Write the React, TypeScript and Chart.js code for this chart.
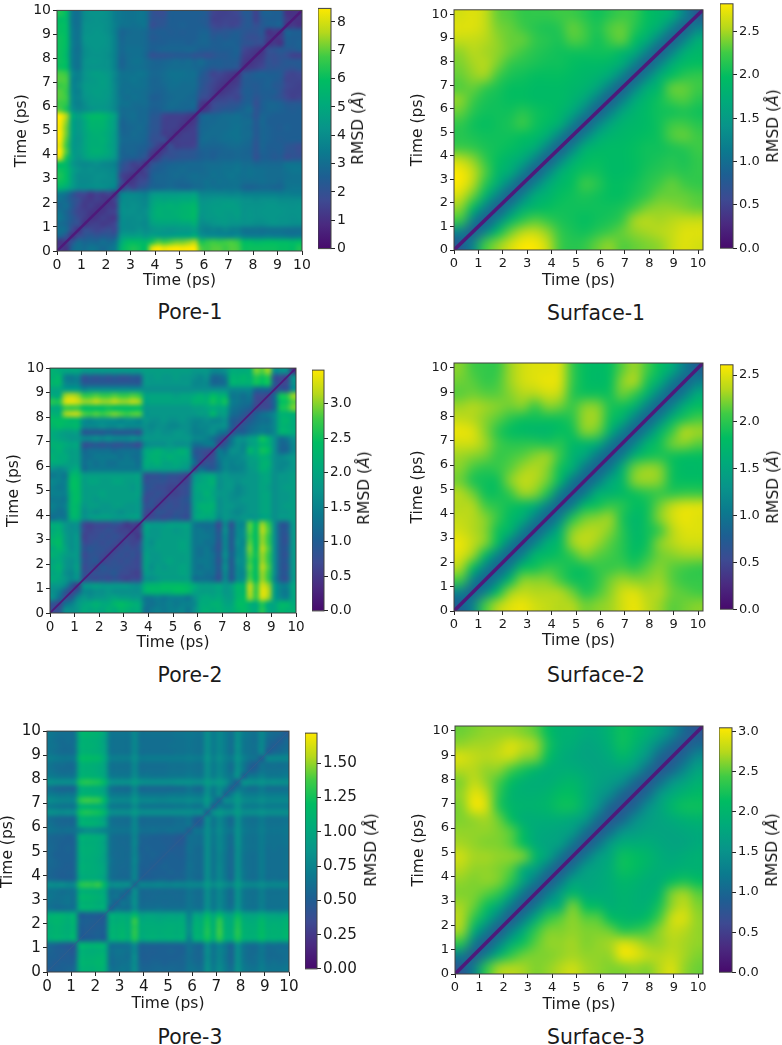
import { useEffect, useRef } from 'react';
import { Chart, registerables } from 'chart.js';

Chart.register(...registerables);
Chart.defaults.font.family = '"DejaVu Sans", sans-serif';
Chart.defaults.color = '#1a1a1a';

const timeTicks = [0, 1, 2, 3, 4, 5, 6, 7, 8, 9, 10];
// viridis as the printed colour bars show it, greener and bluer than the stock map
const viridis = ['#470a6c', '#4a2a80', '#3d4a92', '#1d5f92', '#0b7a8e', '#08948a', '#00aa7a', '#00bc62', '#3fcb45', '#b5d81c', '#fde800'];

const pore1Ticks = ['0', '1', '2', '3', '4', '5', '6', '7', '8'];
const surface1Ticks = ['0.0', '0.5', '1.0', '1.5', '2.0', '2.5'];
const pore2Ticks = ['0.0', '0.5', '1.0', '1.5', '2.0', '2.5', '3.0'];
const surface2Ticks = ['0.0', '0.5', '1.0', '1.5', '2.0', '2.5'];
const pore3Ticks = ['0.00', '0.25', '0.50', '0.75', '1.00', '1.25', '1.50'];
const surface3Ticks = ['0.0', '0.5', '1.0', '1.5', '2.0', '2.5', '3.0'];

// lower triangle of each symmetric map, row = y cell, column = x cell
// the numbers are my readings; "unit" in PANELS turns them into angstrom
const pore1Rows = [
  [12],
  [10, 12],
  [26, 20, 10],
  [30, 28, 16, 10],
  [28, 26, 20, 18, 10],
  [31, 27, 22, 17, 13, 10],
  [30, 26, 20, 15, 14, 11, 10],
  [27, 29, 22, 16, 12, 14, 11, 10],
  [30, 27, 21, 18, 13, 12, 14, 12, 10],
  [33, 30, 22, 16, 16, 12, 15, 13, 15, 10],
  [52, 48, 42, 37, 37, 37, 38, 38, 36, 34, 12],
  [58, 55, 44, 38, 37, 38, 39, 38, 38, 36, 18, 10],
  [60, 56, 44, 38, 38, 38, 39, 39, 38, 36, 15, 12, 10],
  [58, 55, 45, 40, 38, 39, 38, 38, 37, 35, 20, 16, 14, 10],
  [57, 54, 42, 38, 37, 38, 39, 37, 36, 34, 22, 18, 14, 15, 10],
  [76, 60, 45, 40, 44, 47, 47, 46, 44, 40, 26, 24, 24, 22, 19, 10],
  [82, 66, 44, 42, 46, 50, 51, 50, 47, 42, 26, 26, 26, 24, 22, 13, 10],
  [78, 64, 43, 41, 46, 50, 50, 50, 46, 42, 27, 26, 26, 25, 24, 20, 14, 10],
  [80, 66, 44, 40, 46, 50, 50, 51, 47, 42, 28, 27, 27, 27, 25, 19, 18, 18, 10],
  [82, 68, 45, 41, 46, 50, 51, 50, 47, 42, 27, 26, 28, 27, 26, 20, 19, 13, 13, 10],
  [80, 68, 46, 42, 47, 52, 52, 52, 48, 43, 26, 26, 27, 28, 26, 21, 20, 14, 14, 13, 10],
  [82, 70, 46, 42, 47, 53, 53, 53, 48, 43, 26, 27, 28, 27, 27, 21, 20, 14, 14, 14, 12, 10],
  [84, 72, 50, 44, 50, 54, 55, 54, 50, 44, 28, 28, 29, 27, 27, 22, 21, 15, 14, 14, 14, 12, 10],
  [66, 60, 40, 36, 38, 40, 42, 42, 40, 36, 28, 28, 28, 27, 27, 24, 24, 26, 27, 26, 26, 25, 24, 10],
  [64, 62, 38, 34, 38, 42, 42, 42, 40, 36, 30, 30, 28, 28, 28, 25, 25, 26, 28, 28, 27, 27, 27, 12, 10],
  [66, 64, 38, 35, 40, 42, 43, 43, 41, 36, 30, 28, 30, 29, 28, 24, 24, 26, 27, 28, 28, 27, 26, 18, 16, 12],
  [66, 63, 37, 34, 41, 43, 44, 43, 42, 36, 29, 30, 29, 29, 28, 26, 25, 26, 28, 28, 28, 28, 27, 20, 18, 14, 10],
  [64, 64, 36, 36, 42, 43, 43, 44, 42, 36, 30, 29, 30, 30, 29, 26, 26, 27, 29, 29, 28, 28, 28, 22, 18, 15, 12, 10],
  [66, 65, 36, 34, 40, 42, 43, 44, 42, 35, 30, 30, 31, 30, 29, 26, 26, 28, 29, 30, 29, 29, 28, 22, 20, 16, 14, 12, 10],
  [65, 63, 38, 34, 40, 43, 44, 43, 41, 36, 30, 30, 30, 31, 30, 27, 27, 28, 30, 30, 30, 29, 29, 24, 20, 15, 16, 14, 12, 10],
  [58, 56, 34, 30, 39, 40, 40, 40, 39, 34, 26, 28, 29, 29, 28, 26, 26, 27, 28, 28, 28, 28, 27, 26, 24, 22, 23, 22, 22, 20, 10],
  [58, 56, 33, 30, 39, 41, 41, 40, 39, 34, 25, 28, 30, 30, 28, 26, 25, 26, 27, 28, 27, 28, 26, 28, 25, 24, 24, 23, 23, 22, 12, 10],
  [58, 54, 33, 30, 38, 40, 40, 40, 38, 34, 26, 28, 29, 29, 26, 19, 20, 20, 21, 22, 22, 22, 20, 20, 18, 20, 22, 22, 24, 24, 14, 12, 10],
  [58, 55, 33, 29, 38, 40, 41, 40, 39, 34, 27, 29, 29, 29, 27, 24, 25, 26, 26, 26, 26, 27, 26, 24, 24, 23, 24, 24, 24, 25, 16, 14, 12, 10],
  [58, 56, 34, 30, 39, 41, 41, 41, 39, 34, 27, 28, 28, 28, 27, 24, 24, 24, 25, 25, 25, 24, 25, 26, 26, 24, 24, 25, 25, 24, 20, 20, 18, 18, 10],
  [58, 56, 33, 30, 40, 41, 41, 41, 39, 34, 26, 28, 28, 28, 27, 22, 23, 24, 24, 24, 24, 24, 24, 26, 26, 22, 24, 22, 24, 24, 20, 18, 18, 20, 12, 10],
  [57, 55, 33, 30, 39, 40, 41, 40, 38, 33, 26, 27, 28, 28, 27, 23, 24, 24, 23, 24, 23, 24, 24, 25, 25, 20, 20, 21, 22, 23, 21, 20, 20, 22, 10, 12, 10],
  [57, 55, 32, 29, 39, 40, 40, 40, 38, 34, 30, 30, 29, 30, 30, 18, 20, 21, 24, 24, 25, 24, 24, 24, 22, 16, 15, 16, 15, 16, 21, 22, 18, 22, 24, 24, 25, 10],
  [56, 54, 31, 29, 38, 39, 40, 39, 38, 33, 31, 30, 30, 31, 30, 20, 20, 20, 24, 24, 24, 24, 24, 23, 22, 14, 14, 15, 15, 15, 20, 22, 14, 22, 24, 24, 24, 12, 10],
  [60, 56, 32, 29, 38, 40, 40, 40, 38, 33, 31, 30, 30, 31, 30, 20, 18, 18, 24, 24, 24, 24, 24, 24, 22, 15, 14, 14, 15, 16, 22, 22, 14, 24, 25, 24, 24, 10, 10, 10],
];

const pore2Rows = [
  [7],
  [8, 6],
  [16, 12, 7],
  [16, 14, 9, 6],
  [17, 17, 15, 9, 5],
  [20, 19, 17, 15, 16, 7],
  [19, 20, 16, 15, 17, 8, 7],
  [20, 21, 17, 16, 18, 7, 8, 6],
  [19, 20, 17, 16, 17, 8, 8, 9, 6],
  [21, 20, 18, 17, 17, 7, 8, 8, 7, 6],
  [20, 22, 19, 16, 17, 8, 9, 8, 8, 7, 6],
  [22, 23, 18, 16, 17, 7, 7, 8, 7, 8, 7, 6],
  [21, 22, 18, 16, 17, 6, 7, 7, 8, 7, 8, 7, 6],
  [20, 21, 17, 16, 16, 7, 6, 7, 7, 8, 7, 6, 6, 5],
  [20, 20, 17, 16, 16, 7, 6, 7, 7, 7, 8, 7, 5, 6, 5],
  [12, 13, 13, 21, 21, 16, 17, 18, 18, 18, 17, 17, 17, 18, 17, 6],
  [13, 12, 13, 22, 22, 16, 17, 16, 17, 17, 17, 16, 17, 17, 17, 7, 6],
  [14, 13, 14, 22, 22, 17, 18, 18, 17, 17, 18, 18, 17, 17, 17, 8, 8, 6],
  [13, 13, 13, 22, 23, 18, 18, 17, 18, 18, 18, 18, 18, 18, 17, 7, 8, 7, 6],
  [14, 14, 14, 22, 23, 18, 18, 18, 19, 18, 18, 18, 18, 18, 18, 8, 7, 8, 7, 6],
  [14, 13, 14, 23, 23, 18, 18, 18, 18, 18, 18, 18, 18, 17, 18, 9, 8, 7, 7, 6, 6],
  [15, 14, 14, 23, 23, 18, 19, 19, 18, 18, 19, 19, 18, 18, 18, 8, 8, 8, 8, 7, 7, 6],
  [13, 14, 13, 22, 22, 18, 18, 18, 18, 18, 18, 18, 18, 18, 18, 8, 8, 8, 9, 8, 8, 7, 6],
  [16, 15, 16, 19, 20, 12, 13, 13, 13, 13, 13, 13, 13, 13, 13, 18, 18, 18, 18, 18, 18, 17, 16, 6],
  [20, 20, 19, 18, 18, 12, 13, 12, 13, 12, 12, 13, 13, 13, 12, 20, 20, 21, 19, 19, 20, 19, 18, 12, 6],
  [21, 20, 20, 18, 18, 12, 12, 13, 13, 13, 13, 12, 13, 12, 12, 19, 21, 21, 20, 21, 20, 20, 19, 10, 8, 6],
  [20, 21, 19, 18, 18, 11, 12, 12, 12, 12, 11, 12, 12, 12, 12, 19, 20, 21, 20, 19, 20, 21, 19, 9, 8, 7, 6],
  [21, 21, 20, 19, 19, 8, 8, 9, 8, 9, 8, 8, 9, 8, 7, 15, 16, 16, 16, 17, 16, 16, 16, 12, 12, 13, 13, 6],
  [20, 19, 18, 17, 17, 15, 15, 16, 15, 16, 15, 15, 15, 16, 15, 17, 17, 17, 17, 17, 17, 17, 17, 15, 15, 14, 12, 9, 6],
  [20, 19, 18, 18, 18, 9, 9, 9, 9, 10, 9, 9, 9, 9, 8, 16, 16, 17, 16, 16, 17, 17, 16, 14, 14, 15, 16, 13, 12, 7],
  [22, 23, 22, 22, 22, 15, 15, 15, 16, 15, 15, 16, 15, 15, 15, 16, 15, 16, 16, 15, 15, 16, 16, 14, 15, 15, 16, 16, 16, 10, 7],
  [23, 23, 23, 22, 22, 16, 15, 16, 16, 16, 16, 15, 16, 16, 15, 17, 16, 16, 17, 16, 16, 17, 16, 15, 15, 16, 15, 15, 16, 10, 9, 7],
  [21, 21, 29, 30, 30, 27, 26, 27, 26, 27, 28, 27, 26, 27, 27, 17, 17, 17, 17, 17, 17, 17, 17, 17, 18, 18, 22, 18, 18, 12, 11, 9, 7],
  [20, 20, 26, 26, 26, 23, 23, 23, 23, 24, 23, 23, 23, 23, 23, 17, 17, 17, 17, 17, 17, 17, 17, 18, 18, 19, 20, 19, 19, 13, 12, 11, 10, 6],
  [25, 25, 31, 32, 31, 29, 29, 30, 29, 29, 30, 29, 29, 30, 29, 19, 19, 19, 19, 19, 19, 19, 19, 21, 21, 21, 24, 22, 24, 14, 13, 12, 12, 7, 6],
  [20, 20, 29, 30, 29, 26, 26, 27, 26, 26, 27, 26, 26, 27, 26, 19, 19, 19, 19, 19, 18, 19, 19, 20, 21, 20, 23, 21, 21, 13, 13, 12, 13, 7, 7, 6],
  [19, 19, 18, 18, 18, 15, 16, 16, 16, 16, 16, 16, 16, 16, 16, 16, 16, 16, 16, 16, 16, 16, 16, 16, 16, 16, 16, 16, 16, 15, 15, 15, 15, 11, 11, 11, 6],
  [22, 22, 15, 14, 14, 9, 9, 9, 9, 9, 9, 9, 9, 9, 9, 17, 17, 17, 17, 17, 17, 17, 17, 15, 15, 15, 11, 11, 12, 21, 21, 21, 21, 24, 23, 24, 9, 6],
  [21, 22, 14, 13, 14, 8, 9, 8, 9, 8, 9, 8, 8, 9, 9, 17, 17, 18, 17, 17, 18, 17, 17, 16, 15, 16, 11, 11, 13, 21, 21, 22, 21, 25, 24, 25, 8, 7, 6],
  [21, 20, 19, 19, 19, 17, 17, 17, 17, 17, 17, 17, 17, 17, 17, 18, 18, 18, 18, 18, 18, 18, 18, 17, 17, 17, 15, 15, 16, 20, 20, 20, 21, 28, 27, 29, 16, 16, 16, 4],
];

const pore3Rows = [
  [45],
  [50, 45],
  [50, 50, 45],
  [52, 48, 48, 45],
  [55, 52, 48, 46, 45],
  [100, 104, 102, 100, 104, 48],
  [104, 106, 104, 102, 106, 50, 46],
  [102, 106, 104, 100, 104, 50, 48, 46],
  [106, 108, 106, 102, 106, 52, 50, 48, 46],
  [102, 104, 104, 100, 102, 50, 50, 50, 48, 48],
  [62, 58, 58, 60, 62, 100, 104, 102, 100, 98, 48],
  [60, 58, 60, 62, 60, 102, 104, 104, 100, 98, 62, 48],
  [64, 60, 60, 62, 60, 106, 108, 106, 104, 98, 60, 62, 50],
  [62, 62, 58, 60, 62, 100, 102, 102, 100, 96, 60, 60, 60, 50],
  [78, 76, 78, 74, 76, 122, 126, 124, 128, 110, 78, 80, 78, 78, 52],
  [54, 52, 50, 50, 52, 96, 100, 100, 98, 90, 60, 56, 56, 56, 72, 48],
  [53, 50, 48, 50, 52, 98, 100, 100, 98, 92, 60, 56, 54, 55, 72, 50, 46],
  [54, 52, 50, 48, 52, 100, 102, 100, 98, 92, 60, 56, 55, 56, 72, 50, 50, 46],
  [55, 52, 50, 50, 52, 98, 100, 100, 96, 90, 62, 56, 56, 55, 74, 52, 50, 50, 46],
  [54, 50, 50, 50, 52, 98, 102, 100, 98, 90, 60, 55, 56, 56, 72, 52, 50, 52, 50, 46],
  [55, 52, 50, 52, 52, 100, 102, 102, 98, 92, 60, 56, 56, 55, 72, 50, 52, 50, 50, 50, 45],
  [54, 52, 50, 50, 52, 98, 100, 100, 98, 90, 60, 56, 55, 56, 74, 52, 50, 50, 50, 48, 48, 44],
  [54, 52, 52, 50, 54, 100, 102, 100, 98, 92, 60, 56, 56, 56, 72, 52, 52, 50, 50, 48, 48, 46, 44],
  [62, 60, 58, 60, 60, 70, 76, 76, 74, 70, 64, 62, 62, 62, 74, 60, 58, 60, 58, 58, 60, 58, 58, 46],
  [60, 56, 54, 54, 56, 100, 104, 104, 100, 92, 62, 58, 58, 58, 74, 56, 56, 56, 56, 56, 56, 58, 58, 62, 46],
  [58, 56, 54, 54, 56, 102, 104, 102, 100, 90, 62, 58, 58, 58, 74, 56, 56, 56, 56, 56, 56, 58, 58, 62, 50, 46],
  [80, 78, 76, 78, 78, 118, 122, 120, 118, 108, 80, 78, 78, 78, 86, 78, 78, 78, 78, 78, 78, 78, 78, 78, 76, 76, 50],
  [66, 64, 62, 62, 64, 102, 106, 104, 102, 94, 66, 64, 64, 64, 76, 64, 62, 62, 62, 62, 62, 64, 64, 66, 62, 64, 78, 48],
  [76, 74, 72, 72, 74, 124, 130, 128, 126, 110, 76, 74, 74, 74, 84, 74, 74, 74, 72, 72, 74, 74, 74, 76, 74, 74, 86, 66, 50],
  [66, 64, 62, 64, 64, 102, 106, 104, 102, 94, 66, 64, 64, 64, 76, 64, 62, 62, 62, 62, 64, 64, 64, 66, 64, 64, 80, 64, 76, 50],
  [58, 54, 52, 52, 54, 98, 102, 100, 98, 90, 62, 56, 56, 56, 72, 54, 54, 54, 54, 54, 54, 56, 56, 62, 56, 56, 78, 66, 76, 66, 46],
  [80, 78, 78, 78, 80, 120, 124, 122, 120, 110, 82, 80, 80, 80, 88, 80, 78, 78, 78, 78, 78, 80, 80, 80, 78, 78, 88, 82, 86, 80, 62, 46],
  [66, 64, 62, 62, 64, 102, 106, 104, 102, 94, 66, 64, 64, 64, 76, 64, 64, 62, 62, 62, 64, 64, 64, 66, 64, 64, 78, 68, 76, 68, 64, 80, 48],
  [62, 58, 56, 56, 58, 100, 102, 102, 98, 92, 62, 60, 60, 60, 74, 58, 58, 58, 58, 58, 60, 60, 60, 62, 60, 60, 78, 66, 74, 66, 58, 80, 64, 48],
  [62, 58, 58, 56, 58, 100, 104, 102, 100, 92, 62, 60, 60, 60, 74, 58, 58, 58, 58, 58, 60, 60, 60, 62, 60, 60, 78, 66, 74, 66, 58, 78, 64, 52, 46],
  [68, 66, 64, 64, 66, 110, 114, 112, 110, 98, 70, 68, 68, 68, 78, 66, 66, 66, 66, 66, 66, 66, 66, 68, 66, 66, 82, 70, 78, 70, 66, 82, 70, 62, 60, 46],
  [62, 58, 56, 56, 58, 100, 104, 102, 100, 92, 62, 60, 60, 60, 74, 58, 58, 58, 58, 58, 58, 60, 60, 62, 60, 60, 78, 66, 74, 66, 58, 78, 64, 60, 58, 74, 46],
  [62, 60, 56, 56, 60, 102, 104, 104, 100, 92, 62, 60, 60, 60, 74, 60, 58, 58, 58, 58, 60, 60, 60, 62, 60, 60, 78, 66, 74, 66, 58, 80, 64, 60, 60, 74, 54, 46],
  [62, 58, 56, 58, 58, 100, 104, 102, 100, 90, 62, 60, 60, 60, 74, 58, 58, 58, 58, 58, 58, 60, 60, 62, 60, 60, 78, 66, 74, 66, 58, 78, 64, 60, 58, 74, 56, 52, 46],
  [64, 60, 58, 58, 60, 104, 108, 106, 104, 94, 64, 62, 62, 62, 74, 60, 60, 60, 60, 60, 60, 62, 62, 64, 62, 62, 78, 66, 74, 66, 60, 78, 66, 62, 60, 74, 60, 56, 54, 46],
];

const surface1Rows = [
  [75],
  [120, 75],
  [220, 120, 75],
  [240, 190, 120, 75],
  [260, 230, 180, 120, 75],
  [275, 250, 210, 170, 120, 75],
  [275, 255, 225, 185, 170, 120, 75],
  [255, 240, 215, 195, 180, 165, 120, 75],
  [220, 215, 205, 200, 195, 185, 170, 120, 75],
  [210, 205, 200, 200, 200, 195, 190, 170, 120, 75],
  [215, 200, 195, 200, 205, 220, 200, 190, 175, 120, 75],
  [230, 210, 200, 200, 200, 210, 200, 195, 185, 165, 120, 75],
  [240, 220, 205, 200, 195, 195, 190, 190, 190, 180, 160, 115, 75],
  [225, 230, 215, 205, 195, 195, 190, 190, 190, 185, 180, 160, 115, 75],
  [230, 240, 245, 220, 205, 200, 195, 195, 195, 190, 185, 180, 165, 120, 75],
  [235, 245, 250, 235, 215, 210, 205, 200, 200, 195, 190, 190, 185, 170, 120, 75],
  [240, 250, 245, 240, 230, 220, 210, 205, 200, 200, 200, 200, 200, 185, 170, 120, 75],
  [255, 255, 250, 240, 230, 230, 215, 210, 205, 225, 220, 200, 220, 230, 195, 170, 120, 75],
  [265, 265, 255, 235, 230, 220, 210, 205, 210, 230, 220, 205, 225, 230, 210, 190, 170, 120, 75],
  [260, 265, 255, 230, 225, 215, 215, 215, 220, 220, 210, 200, 210, 220, 215, 195, 185, 170, 120, 75],
];

const surface2Rows = [
  [75],
  [110, 75],
  [205, 110, 75],
  [230, 180, 110, 75],
  [245, 225, 175, 110, 75],
  [250, 235, 220, 180, 110, 75],
  [240, 230, 220, 185, 170, 110, 75],
  [235, 230, 220, 200, 175, 160, 110, 75],
  [230, 230, 205, 195, 185, 175, 160, 110, 75],
  [230, 215, 185, 185, 200, 225, 220, 190, 105, 75],
  [215, 190, 185, 185, 220, 235, 230, 215, 175, 100, 75],
  [220, 205, 195, 200, 210, 225, 230, 220, 185, 160, 100, 75],
  [225, 220, 215, 200, 205, 210, 220, 225, 200, 165, 150, 100, 75],
  [240, 240, 225, 205, 195, 195, 195, 190, 195, 175, 170, 160, 105, 75],
  [250, 245, 220, 195, 180, 175, 170, 170, 180, 185, 220, 215, 165, 110, 75],
  [235, 230, 220, 210, 195, 185, 185, 185, 185, 195, 225, 225, 185, 165, 110, 75],
  [225, 230, 225, 220, 215, 220, 200, 220, 215, 200, 220, 220, 190, 185, 165, 110, 75],
  [210, 215, 210, 210, 220, 230, 230, 240, 235, 195, 185, 185, 185, 215, 200, 165, 110, 75],
  [215, 210, 200, 205, 225, 240, 245, 250, 245, 200, 180, 175, 180, 220, 230, 190, 160, 105, 75],
  [220, 205, 200, 200, 225, 240, 245, 245, 245, 200, 180, 175, 180, 210, 225, 205, 180, 155, 105, 75],
];

const surface3Rows = [
  [75],
  [125, 75],
  [230, 125, 75],
  [265, 190, 125, 75],
  [270, 230, 185, 125, 75],
  [265, 250, 215, 180, 120, 75],
  [255, 255, 245, 230, 180, 115, 75],
  [260, 255, 260, 255, 230, 170, 120, 75],
  [270, 260, 260, 255, 245, 185, 165, 115, 75],
  [280, 265, 265, 260, 260, 255, 200, 170, 115, 75],
  [265, 260, 255, 255, 245, 210, 180, 170, 165, 115, 75],
  [260, 260, 260, 255, 245, 205, 180, 175, 170, 160, 110, 75],
  [255, 260, 265, 250, 210, 185, 185, 185, 185, 175, 160, 105, 75],
  [255, 295, 285, 225, 200, 195, 195, 200, 215, 215, 185, 150, 95, 75],
  [260, 290, 275, 230, 195, 190, 190, 195, 210, 210, 185, 160, 140, 95, 75],
  [255, 275, 260, 240, 210, 190, 185, 185, 195, 200, 185, 170, 160, 145, 100, 75],
  [270, 270, 260, 260, 240, 220, 200, 185, 185, 185, 175, 170, 170, 170, 155, 105, 75],
  [285, 275, 270, 275, 280, 260, 255, 210, 185, 175, 170, 170, 180, 200, 180, 150, 95, 75],
  [260, 265, 265, 270, 285, 275, 265, 220, 190, 185, 170, 175, 190, 215, 195, 170, 135, 100, 75],
  [250, 255, 260, 260, 260, 255, 245, 210, 190, 190, 180, 180, 195, 215, 205, 190, 170, 140, 100, 75],
];

const colorAt = (f: number) => {
  const p = Math.max(0, Math.min(1, f)) * (viridis.length - 1);
  const i = Math.min(Math.floor(p), viridis.length - 2);
  const a = parseInt(viridis[i].slice(1), 16);
  const b = parseInt(viridis[i + 1].slice(1), 16);
  const t = p - i;
  const mix = (s: number) => Math.round(((a >> s) & 255) * (1 - t) + ((b >> s) & 255) * t);
  return `rgb(${mix(16)},${mix(8)},${mix(0)})`;
};

// paints the scatter cells as one image, like imshow
const heatPlugin = (rows: number[][], blur: number, vmax: number) => ({
  id: 'heat',
  beforeDatasetsDraw(chart: any) {
    const { ctx, chartArea, scales } = chart;
    const n = rows.length;
    const off = document.createElement('canvas');
    off.width = n; off.height = n;
    const oc = off.getContext('2d')!;
    const tmax = scales.x.max;
    const step = chart.data.datasets[0].step;
    chart.data.datasets[0].data.forEach((c: any) => {
      oc.fillStyle = colorAt(c.v / vmax);
      oc.fillRect(Math.floor(c.x / step), n - 1 - Math.floor(c.y / step), 1, 1);
    });
    const x0 = scales.x.getPixelForValue(0), x1 = scales.x.getPixelForValue(tmax);
    const y0 = scales.y.getPixelForValue(tmax), y1 = scales.y.getPixelForValue(0);
    ctx.save();
    ctx.beginPath();
    ctx.rect(chartArea.left, chartArea.top, chartArea.width, chartArea.height);
    ctx.clip();
    ctx.imageSmoothingEnabled = true;
    ctx.imageSmoothingQuality = 'high';
    ctx.drawImage(off, x0, y0, x1 - x0, y1 - y0);
    if (blur) {
      ctx.filter = `blur(${blur}px)`;
      ctx.drawImage(off, x0, y0, x1 - x0, y1 - y0);
    }
    ctx.restore();
  },
});

const framePlugin = {
  id: 'frame',
  afterDraw(chart: any) {
    const { ctx, chartArea: a } = chart;
    ctx.save();
    ctx.strokeStyle = '#404040';
    ctx.lineWidth = 1;
    ctx.strokeRect(a.left, a.top, a.width, a.height);
    ctx.restore();
  },
};

const PANELS = [
  { name: 'Pore-1', rows: pore1Rows, unit: 0.105, tmax: 10, vmax: 8.48, ticks: pore1Ticks, blur: 0, diag: ['#4e1a7a', 2.5], plot: [57, 6, 302, 251], bar: [318, 331], font: 14, yw: 44, xh: 39, cap: [190, 312], rmsd: [358, 128] },
  { name: 'Surface-1', rows: surface1Rows, unit: 0.0102, tmax: 10.2, vmax: 2.82, ticks: surface1Ticks, blur: 3, diag: ['#4e1a7a', 3.5], plot: [454, 2, 703, 250], bar: [720, 733], font: 13, yw: 45, xh: 40, cap: [596, 313], rmsd: [773, 126] },
  { name: 'Pore-2', rows: pore2Rows, unit: 0.105, tmax: 10, vmax: 3.49, ticks: pore2Ticks, blur: 0, diag: ['#4e1a7a', 1.8], plot: [50, 368, 296, 613], bar: [312, 324], font: 13.5, yw: 45, xh: 39, cap: [190, 675], rmsd: [364, 488] },
  { name: 'Surface-2', rows: surface2Rows, unit: 0.0102, tmax: 10.2, vmax: 2.61, ticks: surface2Ticks, blur: 3, diag: ['#4e1a7a', 3.5], plot: [454, 363, 703, 611], bar: [720, 733], font: 13, yw: 45, xh: 39, cap: [596, 675], rmsd: [773, 487] },
  { name: 'Pore-3', rows: pore3Rows, unit: 0.0105, tmax: 10, vmax: 1.72, ticks: pore3Ticks, blur: 0, diag: ['#2f5f8c', 1], plot: [47, 730, 289, 972], bar: [305, 317], font: 15.2, yw: 48, xh: 41, cap: [190, 1037], rmsd: [371, 850] },
  { name: 'Surface-3', rows: surface3Rows, unit: 0.0102, tmax: 10.2, vmax: 3.05, ticks: surface3Ticks, blur: 3, diag: ['#4e1a7a', 3.5], plot: [455, 726, 703, 974], bar: [719, 732], font: 13, yw: 45, xh: 40, cap: [596, 1037], rmsd: [772, 850] },
];

const axisFont = { size: 15.5 };

function RmsdPanel({ p }: { p: any }) {
  const mapRef = useRef<HTMLCanvasElement>(null);
  const barRef = useRef<HTMLCanvasElement>(null);
  const [l, t, r, b] = p.plot;
  const padT = Math.min(t, 10);

  useEffect(() => {
    const step = p.tmax / p.rows.length;
    const cells: any[] = [];
    p.rows.forEach((row: number[], i: number) => row.forEach((v, j) => {
      cells.push({ x: (j + 0.5) * step, y: (i + 0.5) * step, v: v * p.unit });
      if (i !== j) cells.push({ x: (i + 0.5) * step, y: (j + 0.5) * step, v: v * p.unit });
    }));

    const axis = (size: string, px: number) => ({
      type: 'linear', min: 0, max: p.tmax,
      afterBuildTicks: (s: any) => { s.ticks = timeTicks.map((value) => ({ value })); },
      afterFit: (s: any) => { s[size] = px; },
      grid: { drawOnChartArea: false, tickLength: 4, tickColor: '#222', tickWidth: 1 },
      border: { display: false },
      ticks: { font: { size: p.font }, padding: 2, autoSkip: false, maxRotation: 0, color: '#1a1a1a' },
      title: { display: true, text: 'Time (ps)', font: axisFont, padding: 0, color: '#1a1a1a' },
    });

    const map = new Chart(mapRef.current!, {
      type: 'scatter',
      data: {
        datasets: [
          { data: cells, step, pointRadius: 0, showLine: false } as any,
          {
            data: [{ x: 0, y: 0 }, { x: p.tmax, y: p.tmax }],
            showLine: true, pointRadius: 0, borderColor: p.diag[0], borderWidth: p.diag[1],
          },
        ],
      },
      options: {
        animation: false, responsive: false, events: [],
        layout: { padding: { top: padT, right: 16, left: 0, bottom: 0 } },
        plugins: { legend: { display: false }, tooltip: { enabled: false } },
        scales: { x: axis('height', p.xh) as any, y: axis('width', p.yw) as any },
      },
      plugins: [heatPlugin(p.rows, p.blur, p.vmax), framePlugin],
    });

    const bar = new Chart(barRef.current!, {
      type: 'bar',
      data: {
        labels: ['RMSD'],
        datasets: [{
          data: [[0, p.vmax]] as any,
          barPercentage: 1, categoryPercentage: 1, borderWidth: 0,
          backgroundColor: (c: any) => {
            const a = c.chart.chartArea;
            if (!a) return viridis[5];
            const g = c.chart.ctx.createLinearGradient(0, a.bottom, 0, a.top);
            viridis.forEach((col, i) => g.addColorStop(i / (viridis.length - 1), col));
            return g;
          },
        }],
      },
      options: {
        animation: false, responsive: false, events: [],
        layout: { padding: { top: 8, bottom: 8 } },
        plugins: { legend: { display: false }, tooltip: { enabled: false } },
        scales: {
          x: { display: false },
          y: {
            position: 'right', min: 0, max: p.vmax,
            afterBuildTicks: (s: any) => { s.ticks = p.ticks.map((l: string) => ({ value: Number(l) })); },
            afterFit: (s: any) => { s.width = 50; },
            grid: { drawOnChartArea: false, tickLength: 4, tickColor: '#222', tickWidth: 1 },
            border: { display: false },
            ticks: { font: { size: p.font }, padding: 2, autoSkip: false, color: '#1a1a1a', callback: (_v: any, i: number) => p.ticks[i] },
          },
        },
      },
      plugins: [framePlugin],
    });

    return () => { map.destroy(); bar.destroy(); };
  }, [p]);

  const base: any = { position: 'absolute', fontFamily: '"DejaVu Sans", sans-serif', color: '#1a1a1a', whiteSpace: 'nowrap' };
  return (
    <>
      <canvas ref={mapRef} width={p.yw + (r - l) + 16} height={padT + (b - t) + p.xh}
        style={{ position: 'absolute', display: 'block', left: l - p.yw, top: t - padT }} />
      <canvas ref={barRef} width={p.bar[1] - p.bar[0] + 50} height={b - t + 16}
        style={{ position: 'absolute', display: 'block', left: p.bar[0], top: t - 8 }} />
      <div style={{ ...base, left: p.rmsd[0], top: p.rmsd[1], fontSize: 15.5, transform: 'translate(-50%,-50%) rotate(-90deg)' }}>
        RMSD (<i>Å</i>)
      </div>
      <div style={{ ...base, left: p.cap[0], top: p.cap[1], fontSize: 20.4, transform: 'translate(-50%,-50%)' }}>{p.name}</div>
    </>
  );
}

export default function App() {
  return (
    <div style={{ position: 'absolute', left: 0, top: 0, width: 782, height: 1045, background: '#fff', overflow: 'hidden' }}>
      {PANELS.map((p) => <RmsdPanel key={p.name} p={p} />)}
    </div>
  );
}
